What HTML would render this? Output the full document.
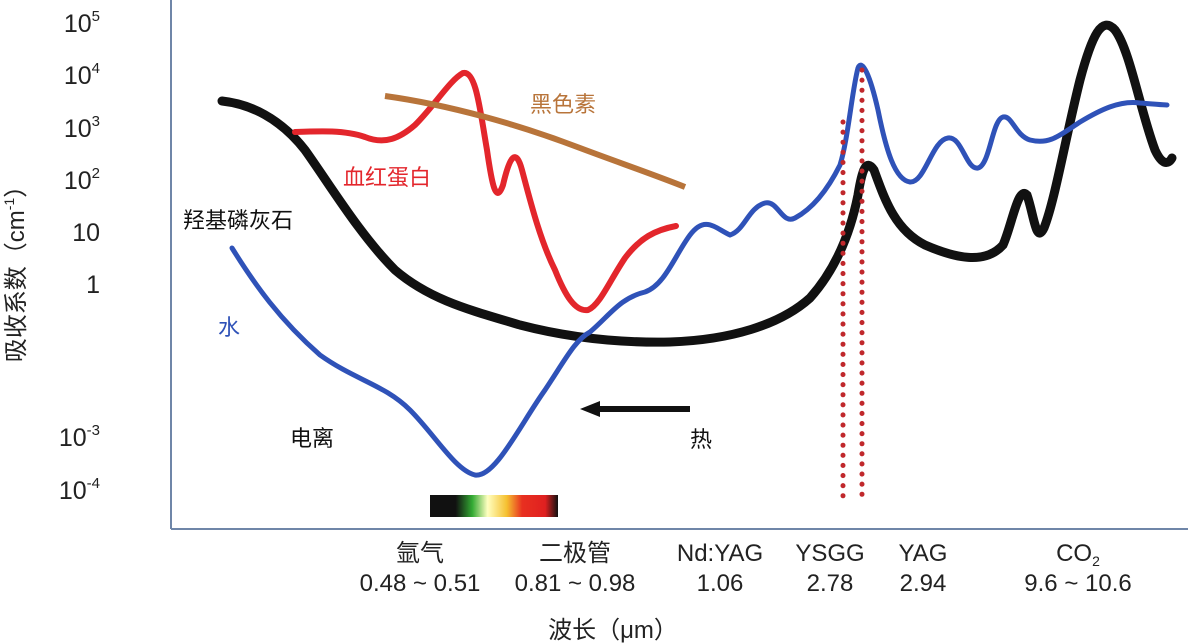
<!DOCTYPE html>
<html><head><meta charset="utf-8"><style>
html,body{margin:0;padding:0;background:#fff;}
svg{display:block;font-family:"Liberation Sans","Noto Sans CJK SC",sans-serif;}
</style></head><body>
<svg width="1188" height="643" viewBox="0 0 1188 643" xmlns="http://www.w3.org/2000/svg">
<defs>
<linearGradient id="g" x1="0" x2="1" y1="0" y2="0">
<stop offset="0" stop-color="#111"/><stop offset="0.2" stop-color="#111"/><stop offset="0.33" stop-color="#3a3"/><stop offset="0.45" stop-color="#ffffc0"/><stop offset="0.6" stop-color="#f5c030"/><stop offset="0.72" stop-color="#e83020"/><stop offset="0.9" stop-color="#e02020"/><stop offset="1" stop-color="#111"/>
</linearGradient>
</defs>
<g stroke="#6f86a8" stroke-width="2" fill="none">
<line x1="171" y1="0" x2="171" y2="529"/>
<line x1="171" y1="529" x2="1188" y2="529"/>
</g>
<g font-size="25" fill="#222" text-anchor="end">
<text x="100" y="32">10<tspan font-size="15" dy="-11">5</tspan></text>
<text x="100" y="84">10<tspan font-size="15" dy="-11">4</tspan></text>
<text x="100" y="137">10<tspan font-size="15" dy="-11">3</tspan></text>
<text x="100" y="189">10<tspan font-size="15" dy="-11">2</tspan></text>
<text x="100" y="241">10</text>
<text x="100" y="293">1</text>
<text x="100" y="446">10<tspan font-size="15" dy="-11">-3</tspan></text>
<text x="100" y="499">10<tspan font-size="15" dy="-11">-4</tspan></text>
</g>
<text transform="translate(24,268) rotate(-90)" font-size="24" fill="#222" text-anchor="middle">吸收系数（cm<tspan font-size="14" dy="-10">-1</tspan><tspan dy="10">）</tspan></text>
<rect x="430" y="495" width="128" height="22" fill="url(#g)"/>
<path d="M222,101 C250,104 280,118 305,150 C330,185 360,235 395,270 C430,300 470,310 520,325 C570,338 620,343 670,342 C730,340 780,325 810,298 C835,270 850,235 858,195 C862,170 866,158 874,170 C885,200 895,230 925,245 C955,258 985,265 1003,245 C1012,225 1018,185 1027,195 C1034,215 1036,245 1044,228 C1055,200 1065,140 1080,80 C1092,35 1102,15 1115,30 C1130,50 1140,110 1155,150 C1162,165 1168,165 1172,158" stroke="#111" stroke-width="9" fill="none" stroke-linecap="round"/>
<path d="M232,248 C255,285 280,320 320,355 C355,380 385,385 410,410 C435,435 455,470 475,475 C495,478 520,425 545,390 C565,360 575,340 590,332 C610,315 620,298 645,292 C665,285 675,255 690,235 C705,215 715,228 730,235 C745,230 748,208 765,203 C778,200 782,225 795,218 C810,210 825,195 840,165 C848,140 852,90 858,68 C862,58 870,75 878,110 C886,150 895,180 910,182 C925,183 932,140 948,138 C962,136 966,170 978,168 C990,165 992,120 1003,117 C1012,115 1015,135 1030,140 C1050,145 1060,135 1080,122 C1100,110 1120,100 1140,103 C1155,104 1162,105 1167,105" stroke="#2f52b8" stroke-width="5" fill="none" stroke-linecap="round"/>
<path d="M295,132 C320,131 345,130 365,137 C385,145 400,138 415,125 C435,105 450,80 463,73 C476,70 480,110 487,150 C492,185 496,205 503,185 C510,155 516,148 522,170 C530,200 540,240 555,270 C565,295 575,312 588,310 C600,305 610,280 625,258 C640,238 655,230 676,226" stroke="#e3262c" stroke-width="6" fill="none" stroke-linecap="round"/>
<path d="M385,96 C450,105 520,125 580,148 C620,163 655,175 685,187" stroke="#b8743a" stroke-width="6" fill="none"/>
<line x1="843" y1="122" x2="843" y2="500" stroke="#c0282c" stroke-width="5" stroke-dasharray="0.1 10" stroke-linecap="round"/>
<line x1="862" y1="70" x2="862" y2="500" stroke="#c0282c" stroke-width="5" stroke-dasharray="0.1 10" stroke-linecap="round"/>
<line x1="690" y1="409" x2="598" y2="409" stroke="#111" stroke-width="6"/>
<polygon points="580,409 600,401 600,417" fill="#111"/>
<g font-size="22" fill="#111">
<text x="183" y="228">羟基磷灰石</text>
<text x="343" y="185" fill="#e3262c">血红蛋白</text>
<text x="530" y="112" fill="#b8743a">黑色素</text>
<text x="218" y="335" fill="#2f52b8">水</text>
<text x="290" y="446">电离</text>
<text x="690" y="447">热</text>
</g>
<g font-size="24" fill="#222" text-anchor="middle">
<text x="420" y="561">氩气</text>
<text x="420" y="591">0.48 ~ 0.51</text>
<text x="575" y="561">二极管</text>
<text x="575" y="591">0.81 ~ 0.98</text>
<text x="720" y="561">Nd:YAG</text>
<text x="720" y="591">1.06</text>
<text x="830" y="561">YSGG</text>
<text x="830" y="591">2.78</text>
<text x="923" y="561">YAG</text>
<text x="923" y="591">2.94</text>
<text x="1078" y="561">CO<tspan font-size="14" dy="5">2</tspan></text>
<text x="1078" y="591" dy="0">9.6 ~ 10.6</text>
<text x="613" y="638">波长（μm）</text>
</g>
</svg>
</body></html>
